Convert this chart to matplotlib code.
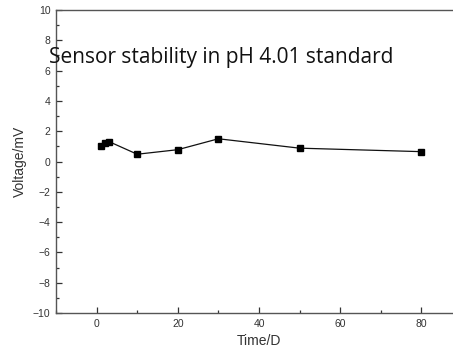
import matplotlib
matplotlib.use("Agg")
import matplotlib.pyplot as plt
from matplotlib.ticker import MultipleLocator
from matplotlib import font_manager as fm

days = [1, 2, 3, 10, 20, 30, 50, 80]
voltage = [1.0, 1.22, 1.32, 0.48, 0.78, 1.5, 0.88, 0.65]
title = "Sensor stability in pH 4.01 standard"

lib = fm.FontProperties(fname=fm.findfont(fm.FontProperties(family="Liberation Sans", stretch="normal", weight="normal")))

W, H = 453, 358
fig = plt.figure(figsize=(W/100, H/100), dpi=100)
ax = fig.add_axes([56/W, 45/H, 406/W, 303/H])
ax.plot(days, voltage, color="#111111", lw=0.9, marker="s", ms=4.5,
        mfc="black", mec="black")
ax.set_xlim(-10, 90)
ax.set_ylim(-10, 10)
ax.xaxis.set_major_locator(MultipleLocator(20))
ax.xaxis.set_minor_locator(MultipleLocator(10))
ax.yaxis.set_major_locator(MultipleLocator(2))
ax.yaxis.set_minor_locator(MultipleLocator(1))
ax.tick_params(which="both", direction="in", colors="#333333",
               labelcolor="#333333", width=0.9)
ax.tick_params(which="major", length=4, pad=4)
ax.tick_params(which="minor", length=2.5)
for lab in ax.get_xticklabels() + ax.get_yticklabels():
    lab.set_fontproperties(lib)
    lab.set_fontsize(7.5)
for s in ax.spines.values():
    s.set_color("#555555")
    s.set_linewidth(1.0)
ax.set_xlabel("Time/D", fontproperties=lib, fontsize=10, color="#333333", labelpad=4)
ax.set_ylabel("Voltage/mV", fontproperties=lib, fontsize=10, color="#333333", labelpad=4)
fig.text(49/W, 1 - 63/H, title, ha="left", va="baseline", fontsize=15,
         family="Open Sans", color="#111111")
fig.savefig("out.png", dpi=100)
